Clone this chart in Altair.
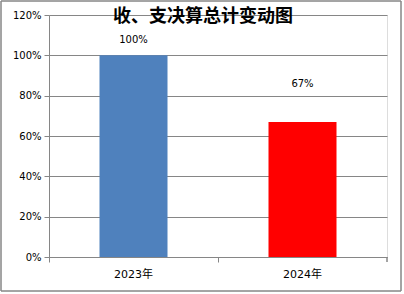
import altair as alt
import pandas as pd

years = ["2023年", "2024年"]
values = [1.00, 0.67]
labels = ["100%", "67%"]
colors = ["#4F81BD", "#FF0000"]

df = pd.DataFrame({"year": years, "value": values, "label": labels, "color": colors})

W, H = 338, 242
FONT = "DejaVu Sans, Noto Sans CJK SC"

x = alt.X("year:N", sort=years, title=None,
          scale=alt.Scale(paddingInner=0, paddingOuter=0),
          axis=alt.Axis(bandPosition=0, labelAngle=0, labelFontSize=11, labelFont=FONT,
                        labelColor="#000000", tickSize=5, tickColor="#868686",
                        domainColor="#868686", labelPadding=6, grid=False))
y = alt.Y("value:Q", title=None,
          scale=alt.Scale(domain=[0, 1.2], nice=False),
          axis=alt.Axis(values=[0, 0.2, 0.4, 0.6, 0.8, 1.0, 1.2], format=".0%",
                        labelFontSize=10, labelFont=FONT, labelColor="#000000",
                        tickSize=5, tickColor="#868686", domainColor="#868686",
                        gridColor="#868686", labelPadding=3))

base = alt.Chart(df)
bars = base.mark_bar(size=68).encode(
    x=x, y=y, color=alt.Color("color:N", scale=None)
)
lab1 = base.transform_filter(alt.datum.year == years[0]).mark_text(
    dy=-15, fontSize=10, font=FONT, color="#000000"
).encode(x=alt.X("year:N", sort=years), y="value:Q", text="label:N")
lab2 = base.transform_filter(alt.datum.year == years[1]).mark_text(
    dy=-38, fontSize=10, font=FONT, color="#000000"
).encode(x=alt.X("year:N", sort=years), y="value:Q", text="label:N")

endtick = base.mark_rule(color="#868686").encode(
    x=alt.value(W), y=alt.value(H), y2=alt.value(H + 5)
)
border = base.mark_rect(fill=None, stroke="#868686", strokeWidth=1, clip=False).encode(
    x=alt.value(-48), x2=alt.value(352), y=alt.value(-14), y2=alt.value(276)
)

chart = alt.layer(bars, lab1, lab2, endtick, border).properties(
    width=W, height=H,
    title=alt.Title("收、支决算总计变动图", fontSize=18, fontWeight="bold",
                    font="Noto Sans CJK SC", color="#000000", anchor="middle",
                    frame="group", baseline="middle", offset=0, dx=-15, dy=34),
    autosize=alt.AutoSizeParams(type="none"),
    padding={"left": 49, "top": 15, "right": 17, "bottom": 37},
).configure_view(stroke=None).configure(background="white")

chart.save("out.html", embed_options={"renderer": "svg", "actions": False})
